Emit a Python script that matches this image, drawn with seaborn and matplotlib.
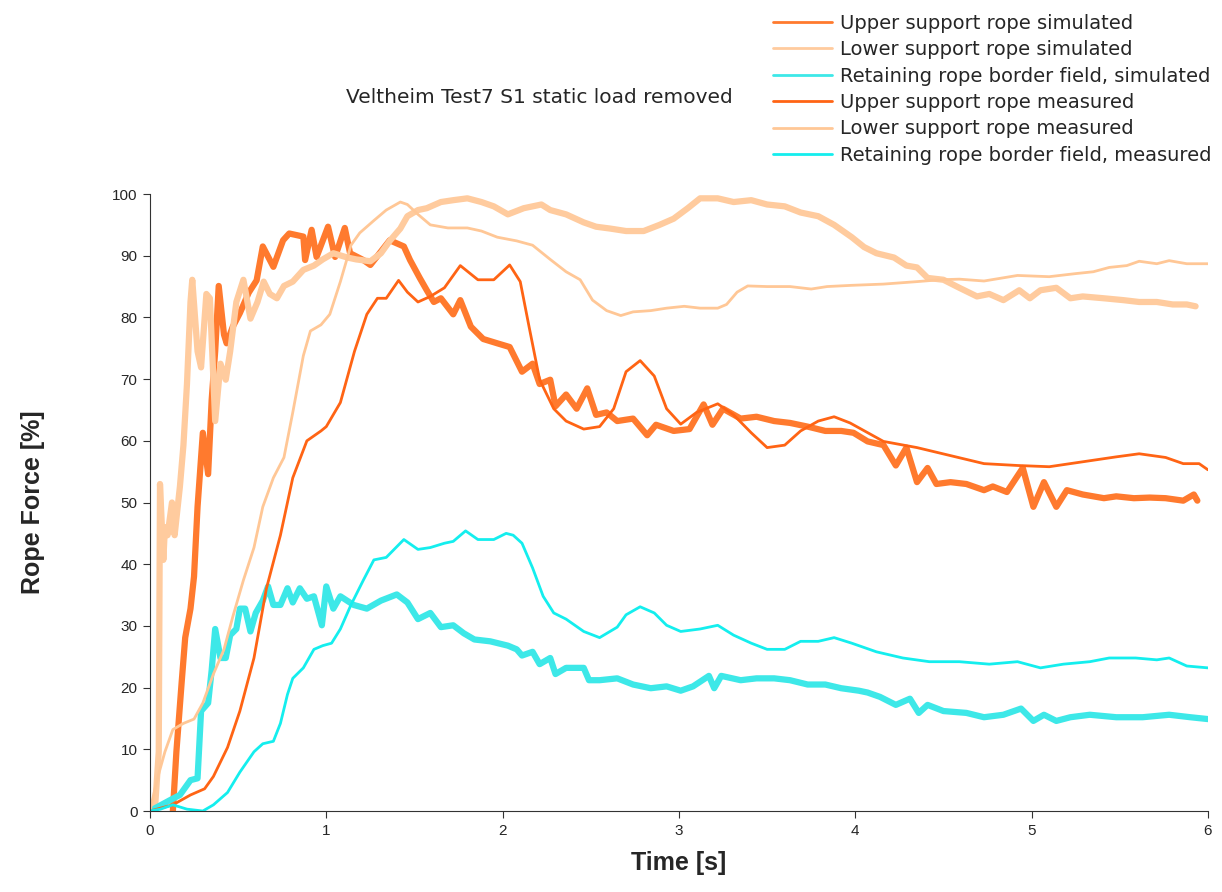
import matplotlib
matplotlib.use("Agg")
import matplotlib.pyplot as plt
import seaborn as sns
import pandas as pd

# ---- data (time [s], rope force [%]) ----
upper_sim_t = [0.13, 0.15, 0.18, 0.20, 0.23, 0.25, 0.27, 0.30, 0.33, 0.35, 0.37, 0.39,
               0.42, 0.435, 0.47, 0.51, 0.56, 0.605, 0.64, 0.70, 0.755, 0.79, 0.87, 0.88,
               0.917, 0.945, 1.01, 1.05, 1.105, 1.135, 1.21, 1.25, 1.36, 1.44, 1.475, 1.53,
               1.57, 1.61, 1.65, 1.72, 1.76, 1.82, 1.89, 1.97, 2.04, 2.11, 2.17, 2.21,
               2.27, 2.30, 2.36, 2.42, 2.48, 2.53, 2.59, 2.65, 2.74, 2.82, 2.87, 2.97,
               3.06, 3.14, 3.19, 3.25, 3.35, 3.44, 3.54, 3.63, 3.73, 3.83, 3.92, 3.99,
               4.07, 4.16, 4.23, 4.29, 4.35, 4.41, 4.46, 4.54, 4.63, 4.73, 4.78, 4.86,
               4.95, 5.01, 5.07, 5.14, 5.20, 5.29, 5.41, 5.48, 5.58, 5.67, 5.76, 5.86,
               5.92, 5.94]
upper_sim_v = [0, 9.6, 20.9, 28.1, 32.8, 38, 49.3, 61.3, 54.6, 66.6, 74.5, 85.1,
               77.2, 75.8, 78.5, 80.7, 84, 86, 91.5, 88.2, 92.5, 93.6, 93.1, 89.3,
               94.2, 89.8, 94.7, 89.8, 94.5, 90.4, 89.3, 88.5, 92.5, 91.5, 89.3, 86.4,
               84.4, 82.5, 83.1, 80.5, 82.8, 78.5, 76.5, 75.8, 75.2, 71.2, 72.5, 69.2,
               69.9, 65.6, 67.5, 65.2, 68.5, 64.2, 64.6, 63.2, 63.6, 60.9, 62.6, 61.6,
               61.9, 65.9, 62.6, 65.2, 63.6, 63.9, 63.2, 62.9, 62.3, 61.6, 61.6, 61.3,
               59.9, 59.3, 56, 58.9, 53.3, 55.6, 53, 53.3, 53, 52, 52.6, 51.7,
               55.6, 49.3, 53.3, 49.3, 52, 51.3, 50.7, 51, 50.7, 50.8, 50.7, 50.3,
               51.3, 50.3]

lower_sim_t = [0, 0.03, 0.05, 0.057, 0.076, 0.085, 0.10, 0.125, 0.14, 0.17, 0.19, 0.21,
               0.23, 0.24, 0.27, 0.29, 0.32, 0.34, 0.37, 0.40, 0.43, 0.455, 0.49, 0.53,
               0.57, 0.61, 0.645, 0.68, 0.72, 0.76, 0.81, 0.87, 0.93, 0.98, 1.04, 1.12,
               1.17, 1.25, 1.31, 1.36, 1.42, 1.46, 1.52, 1.57, 1.65, 1.72, 1.80, 1.88,
               1.95, 2.03, 2.12, 2.22, 2.27, 2.36, 2.46, 2.53, 2.61, 2.70, 2.80, 2.89,
               2.97, 3.05, 3.12, 3.22, 3.31, 3.41, 3.50, 3.60, 3.69, 3.79, 3.88, 3.98,
               4.05, 4.12, 4.22, 4.29, 4.35, 4.41, 4.50, 4.59, 4.69, 4.76, 4.84, 4.93,
               4.99, 5.05, 5.14, 5.22, 5.29, 5.41, 5.52, 5.61, 5.71, 5.80, 5.88, 5.93]
lower_sim_v = [0, 1, 9.6, 53, 40.7, 46, 44.7, 50, 44.7, 52.6, 59.3, 69.2,
               82.5, 86.1, 74.5, 71.9, 83.8, 83.1, 63.2, 72.5, 69.9, 74.5, 82.5, 86.1,
               79.8, 82.5, 85.8, 83.8, 83.1, 85.1, 85.8, 87.7, 88.4, 89.4, 90.4, 89.7,
               89.4, 89.1, 90.4, 92.4, 94.4, 96.4, 97.4, 97.7, 98.7, 99, 99.3, 98.7,
               98, 96.7, 97.7, 98.3, 97.4, 96.7, 95.4, 94.7, 94.4, 94, 94, 95,
               96, 97.7, 99.3, 99.3, 98.7, 99, 98.3, 98, 97, 96.4, 95, 93,
               91.4, 90.4, 89.7, 88.4, 88.1, 86.4, 86.1, 84.8, 83.4, 83.8, 82.8, 84.4,
               83.1, 84.4, 84.8, 83.1, 83.4, 83.1, 82.8, 82.5, 82.5, 82.1, 82.1, 81.8]

ret_sim_t = [0, 0.11, 0.17, 0.23, 0.27, 0.29, 0.33, 0.35, 0.37, 0.40, 0.43, 0.455,
             0.49, 0.51, 0.54, 0.57, 0.60, 0.64, 0.67, 0.70, 0.74, 0.78, 0.81, 0.85,
             0.89, 0.93, 0.975, 1.0, 1.04, 1.08, 1.155, 1.23, 1.31, 1.40, 1.46, 1.52,
             1.59, 1.65, 1.72, 1.78, 1.84, 1.93, 2.03, 2.08, 2.11, 2.17, 2.21, 2.27,
             2.30, 2.36, 2.46, 2.49, 2.55, 2.65, 2.74, 2.84, 2.93, 3.01, 3.08, 3.17,
             3.20, 3.24, 3.35, 3.44, 3.54, 3.63, 3.73, 3.83, 3.92, 4.02, 4.07, 4.14,
             4.23, 4.31, 4.36, 4.41, 4.50, 4.63, 4.73, 4.84, 4.94, 5.01, 5.07, 5.14,
             5.22, 5.33, 5.48, 5.63, 5.78, 5.90, 6.0]
ret_sim_v = [0, 1.7, 2.6, 5, 5.3, 16.2, 17.5, 22.8, 29.5, 24.8, 24.8, 28.5,
             29.5, 32.8, 32.8, 29.1, 32.1, 34.1, 36.4, 33.4, 33.4, 36.1, 33.8, 36.1,
             34.4, 34.8, 30.1, 36.4, 32.8, 34.8, 33.4, 32.8, 34.1, 35.1, 33.8, 31.1,
             32.1, 29.8, 30.1, 28.8, 27.8, 27.5, 26.8, 26.2, 25.2, 25.8, 23.8, 24.8,
             22.2, 23.2, 23.2, 21.2, 21.2, 21.5, 20.5, 19.9, 20.2, 19.5, 20.2, 21.9,
             19.9, 21.9, 21.2, 21.5, 21.5, 21.2, 20.5, 20.5, 19.9, 19.5, 19.2, 18.5,
             17.2, 18.2, 15.9, 17.2, 16.2, 15.9, 15.2, 15.6, 16.6, 14.6, 15.6, 14.6,
             15.2, 15.6, 15.2, 15.2, 15.6, 15.2, 14.9]

upper_meas_t = [0, 0.13, 0.23, 0.31, 0.36, 0.44, 0.51, 0.59, 0.66, 0.74, 0.81, 0.89,
                0.97, 1.0, 1.08, 1.16, 1.23, 1.29, 1.34, 1.41, 1.46, 1.52, 1.59, 1.67,
                1.76, 1.86, 1.95, 2.04, 2.10, 2.15, 2.21, 2.29, 2.36, 2.46, 2.55, 2.63,
                2.70, 2.78, 2.86, 2.93, 3.01, 3.10, 3.22, 3.31, 3.41, 3.50, 3.60, 3.69,
                3.79, 3.88, 3.97, 4.16, 4.35, 4.54, 4.73, 4.92, 5.10, 5.29, 5.48, 5.61,
                5.76, 5.86, 5.95, 6.0]
upper_meas_v = [0, 1, 2.6, 3.6, 5.6, 10.3, 16.2, 24.8, 36, 44.7, 54, 60,
                61.6, 62.3, 66.2, 74.5, 80.5, 83.1, 83.1, 86, 84.1, 82.5, 83.4, 84.8,
                88.4, 86.1, 86.1, 88.5, 85.8, 78.5, 69.9, 65.2, 63.2, 61.9, 62.3, 65.2,
                71.2, 73, 70.5, 65.2, 62.7, 64.6, 66, 64.2, 61.3, 58.9, 59.3, 61.6,
                63.2, 63.9, 62.9, 59.9, 58.9, 57.6, 56.3, 56, 55.8, 56.6, 57.4, 57.9,
                57.3, 56.3, 56.3, 55.3]

lower_meas_t = [0, 0.04, 0.085, 0.13, 0.19, 0.25, 0.30, 0.36, 0.42, 0.47, 0.53, 0.59,
                0.64, 0.70, 0.76, 0.81, 0.87, 0.91, 0.97, 1.02, 1.08, 1.14, 1.19, 1.27,
                1.34, 1.42, 1.46, 1.52, 1.59, 1.69, 1.80, 1.88, 1.97, 2.08, 2.17, 2.27,
                2.36, 2.44, 2.51, 2.59, 2.67, 2.74, 2.84, 2.93, 3.03, 3.12, 3.22, 3.27,
                3.33, 3.39, 3.50, 3.63, 3.75, 3.84, 3.98, 4.16, 4.35, 4.48, 4.59, 4.73,
                4.92, 5.10, 5.25, 5.35, 5.44, 5.54, 5.61, 5.71, 5.78, 5.88, 6.0]
lower_meas_v = [0, 5, 9.6, 13.2, 14.2, 14.9, 17.5, 22.2, 26.2, 31.5, 37.4, 42.7,
                49.3, 54, 57.3, 64.6, 73.8, 77.8, 78.8, 80.5, 85.8, 91.7, 93.7, 95.7,
                97.4, 98.7, 98.3, 96.7, 95, 94.5, 94.5, 94, 93, 92.4, 91.7, 89.4,
                87.4, 86.1, 82.8, 81.1, 80.3, 80.9, 81.1, 81.5, 81.8, 81.5, 81.5, 82.1,
                84.1, 85.1, 85, 85, 84.6, 85, 85.2, 85.4, 85.8, 86.1, 86.2, 85.9,
                86.8, 86.6, 87.1, 87.4, 88.1, 88.4, 89.1, 88.7, 89.2, 88.7, 88.7]

ret_meas_t = [0, 0.06, 0.13, 0.21, 0.30, 0.36, 0.44, 0.51, 0.59, 0.64, 0.70, 0.74,
              0.78, 0.81, 0.87, 0.93, 0.98, 1.03, 1.08, 1.14, 1.21, 1.27, 1.34, 1.44,
              1.52, 1.59, 1.67, 1.72, 1.79, 1.86, 1.95, 2.02, 2.06, 2.11, 2.17, 2.23,
              2.29, 2.36, 2.46, 2.55, 2.65, 2.70, 2.78, 2.86, 2.93, 3.01, 3.12, 3.22,
              3.31, 3.41, 3.50, 3.60, 3.69, 3.79, 3.88, 3.98, 4.12, 4.27, 4.42, 4.59,
              4.76, 4.92, 5.05, 5.18, 5.33, 5.44, 5.59, 5.71, 5.78, 5.88, 6.0]
ret_meas_v = [0, 0.3, 1, 0.3, 0, 1, 3, 6.3, 9.6, 10.9, 11.3, 14.2,
              18.9, 21.5, 23.2, 26.2, 26.8, 27.2, 29.5, 33.4, 37.4, 40.7, 41.1, 44,
              42.4, 42.7, 43.4, 43.7, 45.4, 44, 44, 45, 44.7, 43.4, 39.4, 34.8,
              32.1, 31.1, 29.1, 28.1, 29.8, 31.8, 33.1, 32.1, 30.1, 29.1, 29.5, 30.1,
              28.5, 27.2, 26.2, 26.2, 27.5, 27.5, 28.1, 27.2, 25.8, 24.8, 24.2, 24.2,
              23.8, 24.2, 23.2, 23.8, 24.2, 24.8, 24.8, 24.5, 24.8, 23.5, 23.2]

labels = ["Upper support rope simulated",
          "Lower support rope simulated",
          "Retaining rope border field, simulated",
          "Upper support rope measured",
          "Lower support rope measured",
          "Retaining rope border field, measured"]

sns.set_style("ticks")
plt.rcParams["font.family"] = ["Liberation Sans", "DejaVu Sans"]

fig = plt.figure(figsize=(12.22, 8.92), dpi=100)
ax = fig.add_axes([0.1227, 0.0908, 0.8658, 0.6917])

series = [
    (upper_sim_t, upper_sim_v, "#FF7A2E", 4.5),
    (lower_sim_t, lower_sim_v, "#FFCB9E", 4.5),
    (ret_sim_t, ret_sim_v, "#3DE8E8", 4.5),
    (upper_meas_t, upper_meas_v, "#FF6414", 2.0),
    (lower_meas_t, lower_meas_v, "#FFC796", 2.0),
    (ret_meas_t, ret_meas_v, "#14EEEE", 2.0),
]
for (t, v, col, lw), lab in zip(series, labels):
    sns.lineplot(x=t, y=v, ax=ax, color=col, linewidth=lw, label=lab,
                 sort=False, estimator=None)

ax.set_xlim(0, 6)
ax.set_ylim(0, 100)
ax.set_xticks(range(0, 7))
ax.set_yticks(range(0, 101, 10))
ax.tick_params(labelsize=11, length=5, color="#333333", pad=4)
for s in ["left", "bottom"]:
    ax.spines[s].set_color("#333333")
sns.despine(ax=ax)

ax.set_xlabel("Time [s]", fontsize=18, fontweight="bold", labelpad=10)
ax.set_ylabel("Rope Force [%]", fontsize=18, fontweight="bold", labelpad=48)

fig.text(0.441, 0.891, "Veltheim Test7 S1 static load removed", fontsize=14.5,
         family="DejaVu Sans", ha="center", va="center")

leg = ax.legend(loc="upper left", bbox_to_anchor=(0.628, 0.991),
                bbox_transform=fig.transFigure, frameon=False,
                prop={"family": "DejaVu Sans", "size": 14},
                labelspacing=0.38, handlelength=3.0, handletextpad=0.45,
                borderaxespad=0.0, borderpad=0.3)
for line in leg.get_lines():
    line.set_linewidth(2.0)

fig.savefig("out.png", dpi=100)
